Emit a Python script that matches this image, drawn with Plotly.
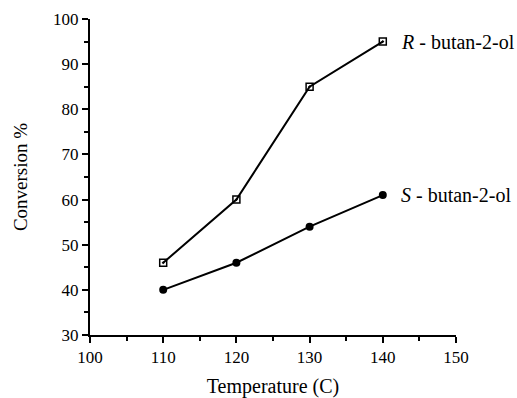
import plotly.graph_objects as go

temperature = [110, 120, 130, 140]
r_conversion = [46, 60, 85, 95]
s_conversion = [40, 46, 54, 61]
x_ticks = [100, 110, 120, 130, 140, 150]
y_ticks = [30, 40, 50, 60, 70, 80, 90, 100]

FONT = "Liberation Serif, Times New Roman, serif"

fig = go.Figure()
fig.add_trace(go.Scatter(
    x=temperature, y=r_conversion, mode="lines+markers",
    line=dict(color="black", width=2),
    marker=dict(symbol="square-open-dot", size=7, color="black", line=dict(width=1.5, color="black")),
    showlegend=False))
fig.add_trace(go.Scatter(
    x=temperature, y=s_conversion, mode="lines+markers",
    line=dict(color="black", width=2),
    marker=dict(symbol="circle", size=8, color="black"),
    showlegend=False))

fig.add_annotation(x=temperature[-1], y=r_conversion[-1], xref="x", yref="y",
                   text="<i>R</i> - butan-2-ol", showarrow=False, xanchor="left",
                   xshift=16, font=dict(family=FONT, size=20, color="black"))
fig.add_annotation(x=temperature[-1], y=s_conversion[-1], xref="x", yref="y",
                   text="<i>S</i> - butan-2-ol", showarrow=False, xanchor="left",
                   xshift=16, font=dict(family=FONT, size=20, color="black"))

fig.update_layout(
    width=517, height=398,
    margin=dict(l=90, r=61, t=19, b=63),
    paper_bgcolor="white", plot_bgcolor="white",
    font=dict(family=FONT, size=17, color="black"),
    xaxis=dict(range=[100, 150], tickvals=x_ticks, showgrid=False, zeroline=False,
               showline=True, linecolor="black", linewidth=2, automargin=False,
               ticks="outside", ticklen=6, tickwidth=2, tickcolor="black",
               tickfont=dict(size=17, color="black"),
               minor=dict(ticks="outside", dtick=5, ticklen=4, tickwidth=2, tickcolor="black"),
               title=dict(text="Temperature (C)", standoff=18, font=dict(size=20, color="black"))),
    yaxis=dict(range=[30, 100], tickvals=y_ticks, showgrid=False, zeroline=False,
               showline=True, linecolor="black", linewidth=2, automargin=False,
               ticks="outside", ticklen=6, tickwidth=2, tickcolor="black",
               tickfont=dict(size=17, color="black"),
               minor=dict(ticks="outside", dtick=5, ticklen=4, tickwidth=2, tickcolor="black"),
               title=dict(text="Conversion %", standoff=20, font=dict(size=19, color="black"))),
)

fig.write_html("out.html")
